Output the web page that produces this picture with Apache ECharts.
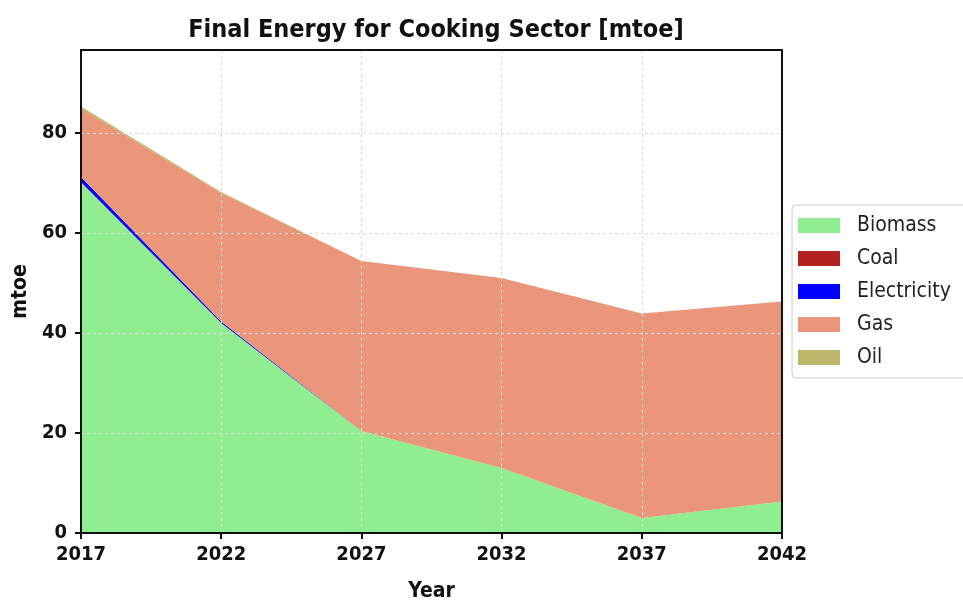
<!DOCTYPE html>
<html>
<head>
<meta charset="utf-8">
<script src="https://cdn.jsdelivr.net/npm/echarts@6/dist/echarts.min.js"></script>
<style>html,body{margin:0;padding:0;background:#fff;}#c{width:963px;height:600px;}</style>
</head>
<body>
<div id="c"></div>
<script>
const years = ['2017', '2022', '2027', '2032', '2037', '2042'];
const biomass = [70.1, 42.0, 20.4, 13.0, 3.0, 6.3];
const coal = [0.1, 0, 0, 0, 0, 0];
const electricity = [1.0, 0.3, 0, 0, 0, 0];
const gas = [13.7, 25.7, 34.0, 38.0, 40.9, 40.0];
const oil = [0.4, 0.2, 0, 0, 0, 0];
const yTicks = [0, 20, 40, 60, 80];

const FONT = "'DejaVu Sans Condensed', 'DejaVu Sans', sans-serif";
const seriesDefs = [
  { name: 'Biomass', data: biomass, color: '#90EE90' },
  { name: 'Coal', data: coal, color: '#B22222' },
  { name: 'Electricity', data: electricity, color: '#0000FF' },
  { name: 'Gas', data: gas, color: '#E9967A' },
  { name: 'Oil', data: oil, color: '#BDB76B' }
];

const frameLine = { show: true, onZero: false, lineStyle: { color: '#111', width: 2 } };

const chart = echarts.init(document.getElementById('c'), null, { renderer: 'canvas' });
chart.setOption({
  backgroundColor: '#fff',
  animation: false,
  title: {
    text: 'Final Energy for Cooking Sector [mtoe]',
    left: 431, textAlign: 'center', top: 13,
    textStyle: { fontFamily: FONT, fontWeight: 'bold', fontSize: 25, color: '#111' }
  },
  legend: {
    orient: 'vertical', left: 792, top: 205,
    padding: [10, 40, 10, 6],
    itemWidth: 42, itemHeight: 15, itemGap: 12,
    icon: 'rect',
    borderColor: '#cccccc', borderWidth: 1, borderRadius: 4,
    backgroundColor: '#fff',
    textStyle: { fontFamily: FONT, fontSize: 21, color: '#222', padding: [0, 0, 0, 12] },
    data: seriesDefs.map(s => s.name)
  },
  grid: {
    left: 81, right: 181, top: 50, bottom: 67,
    show: false,
    outerBoundsMode: 'none', containLabel: false
  },
  xAxis: [{
    type: 'category', data: years, boundaryGap: false,
    name: 'Year', nameLocation: 'middle', nameGap: 48,
    nameTextStyle: { fontFamily: FONT, fontWeight: 'bold', fontSize: 21, color: '#111' },
    axisLine: frameLine,
    axisTick: { show: true, alignWithLabel: true, length: 6, lineStyle: { color: '#111', width: 2 } },
    axisLabel: { fontFamily: FONT, fontWeight: 'bold', fontSize: 20, color: '#111', margin: 12 },
    splitLine: { show: true, lineStyle: { color: '#d9d9d9', type: [3, 3], width: 1 } },
    z: 5
  }, {
    type: 'category', data: years, boundaryGap: false, position: 'top',
    axisLine: frameLine, axisTick: { show: false }, axisLabel: { show: false },
    splitLine: { show: false }, z: 10
  }],
  yAxis: [{
    type: 'value', min: 0, max: 96.6, interval: 20,
    name: 'mtoe', nameLocation: 'middle', nameGap: 49, nameRotate: 90,
    nameTextStyle: { fontFamily: FONT, fontWeight: 'bold', fontSize: 21, color: '#111' },
    axisLine: frameLine,
    axisTick: { show: true, length: 6, customValues: yTicks, lineStyle: { color: '#111', width: 2 } },
    axisLabel: {
      fontFamily: FONT, fontWeight: 'bold', fontSize: 20, color: '#111', margin: 14,
      customValues: yTicks,
      formatter: v => (yTicks.indexOf(v) >= 0 ? String(v) : '')
    },
    splitLine: { show: true, lineStyle: { color: '#d9d9d9', type: [3, 3], width: 1 } },
    z: 5
  }, {
    type: 'value', min: 0, max: 96.6, position: 'right',
    axisLine: frameLine, axisTick: { show: false }, axisLabel: { show: false },
    splitLine: { show: false }, z: 10
  }],
  series: seriesDefs.map(s => ({
    name: s.name, type: 'line', stack: 'total', data: s.data,
    xAxisIndex: 0, yAxisIndex: 0,
    symbol: 'none', smooth: false,
    color: s.color,
    itemStyle: { color: s.color },
    lineStyle: { width: 0, color: s.color },
    areaStyle: { color: s.color, opacity: 1 },
    z: 2
  }))
});
</script>
</body>
</html>
